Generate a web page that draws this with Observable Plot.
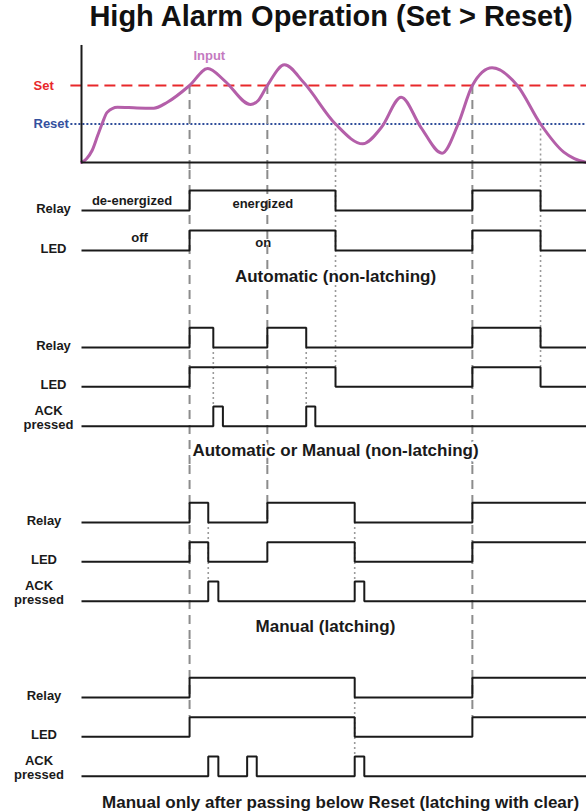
<!DOCTYPE html>
<html>
<head>
<meta charset="utf-8">
<script src="https://cdn.jsdelivr.net/npm/d3@7"></script>
<script src="https://cdn.jsdelivr.net/npm/@observablehq/plot@0.6"></script>
<style>
  html, body { margin: 0; padding: 0; background: #fff; }
  #title { box-sizing: border-box; width: 586px; height: 36px; line-height: 40px; padding-left: 76px; text-align: center;
           font: bold 29px "Liberation Sans", Arial, sans-serif; color: #111; white-space: nowrap; overflow: visible; }
  svg { display: block; }
</style>
</head>
<body>
<div id="title"></div>
<div id="charts"></div>
<script>
// ---------------- data ----------------
const titleText = "High Alarm Operation (Set > Reset)";
const timeDomain = [0, 100];
const setLevel = 70;
const resetLevel = 35;

// input signal (time, value)
const inputT = [0, 1.0, 2.1, 3.2, 4.1, 5.1, 7.1, 11.0, 14.3, 17.0, 21.4, 25.0, 28.3, 33.5, 35.0, 36.8, 40.2, 44.0, 50.3, 55.7, 59.4, 63.3, 67.2, 71.4, 74.6, 77.4, 81.3, 86.3, 90.9, 95.5, 97.6, 100];
const inputV = [0, 3.5, 10.9, 24.5, 35.5, 45.7, 50.3, 49.6, 49.4, 54.8, 70, 85.5, 74.5, 52.7, 56.4, 70, 88.8, 72.7, 35, 17, 32, 59.4, 32, 8.5, 35.2, 70, 86.1, 70, 35, 9.4, 3.5, 0];

const setCrossings = [21.4, 36.8, 77.4];
const resetCrossings = [50.3, 90.9];
// where each guide stops: [panel, row, state]
const setGuideStops = [[3, 1, 1], [2, 0, 0], [3, 1, 1]];
const resetGuideStops = [[1, 1, 1], [1, 1, 1]];

// step signals: [time, state]
const autoRelay = [[0, 0], [21.4, 1], [50.3, 0], [77.4, 1], [90.9, 0]];
const autoLED   = [[0, 0], [21.4, 1], [50.3, 0], [77.4, 1], [90.9, 0]];

const amRelay = [[0, 0], [21.4, 1], [26.1, 0], [36.8, 1], [44.5, 0], [77.4, 1], [90.9, 0]];
const amLED   = [[0, 0], [21.4, 1], [50.3, 0], [77.4, 1], [90.9, 0]];
const amACK   = [[0, 0], [26.1, 1], [28.0, 0], [44.5, 1], [46.3, 0]];

const latRelay = [[0, 0], [21.4, 1], [25.1, 0], [36.8, 1], [54.1, 0], [77.4, 1]];
const latLED   = [[0, 0], [21.4, 1], [25.1, 0], [36.8, 1], [54.1, 0], [77.4, 1]];
const latACK   = [[0, 0], [25.1, 1], [27.1, 0], [54.1, 1], [56.0, 0]];

const clrRelay = [[0, 0], [21.4, 1], [54.1, 0], [77.4, 1]];
const clrLED   = [[0, 0], [21.4, 1], [54.1, 0], [77.4, 1]];
const clrACK   = [[0, 0], [25.1, 1], [27.1, 0], [32.8, 1], [34.7, 0], [54.1, 1], [56.0, 0]];

const amAckLinks  = [26.1, 44.5];
const latAckLinks = [25.1, 54.1];
const clrAckLinks = [54.1];

const rowNames = ["Relay", "LED", "ACK\npressed"];
const panelTitles = [
  "Automatic (non-latching)",
  "Automatic or Manual (non-latching)",
  "Manual (latching)",
  "Manual only after passing below Reset (latching with clear)"
];
const stateNotes = ["de-energized", "energized", "off", "on"];

// ---------------- style ----------------
const FONT = '"Liberation Sans", Arial, sans-serif';
const W = 586;
const X = {domain: timeDomain, range: [81, 586], axis: null};
const GUIDE = {stroke: "#8c8c8c", strokeWidth: 2, strokeDasharray: "9,6"};
const DOT = {stroke: "#9a9a9a", strokeWidth: 1.6, strokeDasharray: "2,3"};
const INK = "#1a1a1a";

document.getElementById("title").textContent = titleText;
const host = document.getElementById("charts");

// ---------------- top chart ----------------
const inputData = inputT.map((t, i) => ({t, v: inputV[i]}));
const bottomV = -7.3;
host.appendChild(Plot.plot({
  width: W, height: 134,
  marginTop: 0, marginRight: 0, marginBottom: 0, marginLeft: 0,
  x: X,
  y: {domain: [0, 100], range: [126, 16], axis: null},
  style: {fontFamily: FONT, background: "white", overflow: "hidden"},
  marks: [
    Plot.ruleY([setLevel], {x1: -2.1, x2: 100, stroke: "#e8282b", strokeWidth: 2, strokeDasharray: "11,6"}),
    Plot.ruleY([resetLevel], {x1: -2.1, x2: 100, stroke: "#2f4d9a", strokeWidth: 2, strokeDasharray: "2,2"}),
    Plot.ruleX(setCrossings, {y1: () => setLevel, y2: () => bottomV, ...GUIDE}),
    Plot.ruleX(resetCrossings, {y1: () => resetLevel, y2: () => bottomV, ...DOT}),
    Plot.line(inputData, {x: "t", y: "v", curve: "monotone-x", stroke: "#b45fa9", strokeWidth: 3}),
    Plot.ruleX([0], {y1: () => 0, y2: () => 106.4, stroke: INK, strokeWidth: 2}),
    Plot.ruleY([0], {x1: () => 0, x2: () => 100, stroke: INK, strokeWidth: 2}),
    Plot.text(["Set"], {y: () => setLevel, frameAnchor: "left", dx: 33, textAnchor: "start", fill: "#e8282b", fontWeight: "bold", fontSize: 13}),
    Plot.text(["Reset"], {y: () => resetLevel, frameAnchor: "left", dx: 33, textAnchor: "start", fill: "#34509e", fontWeight: "bold", fontSize: 13}),
    Plot.text(["Input"], {x: () => 25.3, y: () => 97.3, fill: "#c47ac0", fontWeight: "bold", fontSize: 13})
  ]
}));

// ---------------- panels ----------------
function drawPanel(p) {
  const {index, signals, height, yDomain, yRange, labelDx, ackDx, ackLinks, subtitleT, subtitleY, extra = []} = p;
  const rows = signals.map((changes, i) => ({label: rowNames[i], changes, i}));
  const lineData = rows.flatMap(r => {
    const pts = r.changes.map(([t, s]) => ({row: r.i, t, y: r.i - 0.5 * s}));
    pts.push({row: r.i, t: timeDomain[1], y: r.i - 0.5 * r.changes[r.changes.length - 1][1]});
    return pts;
  });
  const mk = (times, stops) => times.map((t, k) => ({t, stop: stops[k]}));
  const setG = mk(setCrossings, setGuideStops);
  const resG = mk(resetCrossings, resetGuideStops);
  const full = arr => arr.filter(d => d.stop[0] > index);
  const part = arr => arr.filter(d => d.stop[0] === index);
  const last = rows.length - 1;
  return Plot.plot({
    width: W, height,
    marginTop: 0, marginRight: 0, marginBottom: 0, marginLeft: 0,
    x: X,
    y: {domain: yDomain, range: yRange, axis: null},
    style: {fontFamily: FONT, background: "white", overflow: "hidden"},
    marks: [
      Plot.ruleX(full(setG), {x: "t", ...GUIDE}),
      Plot.ruleX(part(setG), {x: "t", y1: () => yDomain[0], y2: d => d.stop[1] - 0.5 * d.stop[2], ...GUIDE}),
      Plot.ruleX(full(resG), {x: "t", ...DOT}),
      Plot.ruleX(part(resG), {x: "t", y1: () => yDomain[0], y2: d => d.stop[1] - 0.5 * d.stop[2], ...DOT}),
      Plot.ruleX(ackLinks || [], {y1: () => 0, y2: () => last - 0.5, ...DOT}),
      Plot.line(lineData, {x: "t", y: "y", z: "row", curve: "step-after", stroke: INK, strokeWidth: 2,
                           strokeLinejoin: "miter", strokeLinecap: "butt"}),
      Plot.text(rows.filter(r => r.i < 2), {text: "label", y: "i", frameAnchor: "left", dx: labelDx, dy: -2,
                           textAnchor: "middle", fontWeight: "bold", fontSize: 13, fill: INK}),
      Plot.text(rows.filter(r => r.i === 2), {text: "label", y: "i", frameAnchor: "left", dx: ackDx, dy: -9,
                           lineHeight: 1.1, textAnchor: "middle", fontWeight: "bold", fontSize: 13, fill: INK}),
      ...extra,
      Plot.text([panelTitles[index]], {x: () => subtitleT, y: () => subtitleY, fontWeight: "bold", fontSize: 17,
                           fill: INK, stroke: "white", strokeWidth: 5})
    ]
  });
}

const noteMarks = [
  Plot.text([stateNotes[0]], {x: () => 10.0, y: () => -0.25, fontWeight: "bold", fontSize: 13, fill: INK}),
  Plot.text([stateNotes[1]], {x: () => 35.9, y: () => -0.17, fontWeight: "bold", fontSize: 13, fill: INK}),
  Plot.text([stateNotes[2]], {x: () => 11.5, y: () => 0.68, fontWeight: "bold", fontSize: 13, fill: INK}),
  Plot.text([stateNotes[3]], {x: () => 36.0, y: () => 0.82, fontWeight: "bold", fontSize: 13, fill: INK})
];

host.appendChild(drawPanel({
  index: 0, signals: [autoRelay, autoLED], height: 120, yDomain: [-1, 2], yRange: [0, 120],
  labelDx: 53, ackDx: 48, ackLinks: [], subtitleT: 50.3, subtitleY: 1.65, extra: noteMarks
}));
host.appendChild(drawPanel({
  index: 1, signals: [amRelay, amLED, amACK], height: 175, yDomain: [-1.45, 3], yRange: [0, 175],
  labelDx: 53, ackDx: 48, ackLinks: amAckLinks, subtitleT: 50.3, subtitleY: 2.62
}));
host.appendChild(drawPanel({
  index: 2, signals: [latRelay, latLED, latACK], height: 175, yDomain: [-1.45, 3], yRange: [0, 175],
  labelDx: 43.5, ackDx: 38.5, ackLinks: latAckLinks, subtitleT: 48.3, subtitleY: 2.656
}));
host.appendChild(drawPanel({
  index: 3, signals: [clrRelay, clrLED, clrACK], height: 171, yDomain: [-1.45, 3], yRange: [0, 175],
  labelDx: 43.5, ackDx: 38.5, ackLinks: clrAckLinks, subtitleT: 51.3, subtitleY: 2.67
}));
</script>
</body>
</html>
